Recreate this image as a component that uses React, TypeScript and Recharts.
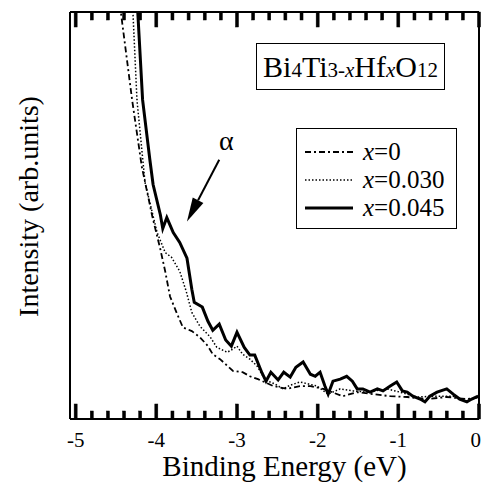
import React from 'react';
import { LineChart, Line, XAxis, YAxis, Legend, ReferenceLine } from 'recharts';

// x = 0 (dash-dot)
const energyX0 = [-4.47, -4.44, -4.30, -4.18, -4.05, -3.95, -3.89, -3.83, -3.74, -3.67, -3.56, -3.46, -3.36, -3.30, -3.21, -3.05, -2.93, -2.84, -2.74, -2.55, -2.38, -2.22, -2.09, -1.93, -1.69, -1.51, -1.31, -1.10, -0.89, -0.64, -0.40, -0.15, 0.0];
const intensityX0 = [101.7, 100, 78.4, 62.0, 49.8, 41.7, 36.3, 30.1, 25.7, 22.5, 21.6, 20.1, 17.9, 15.9, 14.7, 11.8, 11.5, 10.5, 9.8, 8.1, 7.4, 8.1, 8.1, 7.4, 5.6, 6.6, 6.1, 5.6, 5.4, 4.9, 5.4, 4.9, 5.4];

// x = 0.030 (dotted)
const energyX030 = [-4.33, -4.29, -4.24, -4.14, -3.99, -3.89, -3.81, -3.71, -3.63, -3.56, -3.46, -3.33, -3.25, -3.12, -3.05, -3.00, -2.93, -2.84, -2.75, -2.65, -2.53, -2.43, -2.34, -2.22, -2.01, -1.87, -1.72, -1.56, -1.39, -1.14, -0.98, -0.77, -0.57, -0.32, -0.15, -0.01];
const intensityX030 = [101.7, 100, 78.4, 58.1, 45.8, 40.9, 39.7, 36.3, 31.4, 26.2, 22.8, 20.1, 17.6, 16.4, 17.2, 17.9, 15.9, 14.7, 13.0, 9.6, 8.6, 7.4, 8.3, 9.1, 8.1, 6.1, 7.4, 6.9, 6.6, 7.4, 6.6, 5.4, 5.6, 5.6, 4.4, 5.4];

// x = 0.045 (solid)
const energyX045 = [-4.24, -4.23, -4.17, -4.08, -4.04, -3.95, -3.92, -3.87, -3.79, -3.71, -3.62, -3.56, -3.53, -3.43, -3.36, -3.30, -3.22, -3.14, -3.07, -3.00, -2.91, -2.84, -2.78, -2.69, -2.64, -2.58, -2.49, -2.42, -2.34, -2.27, -2.18, -2.09, -2.03, -1.97, -1.91, -1.87, -1.81, -1.72, -1.64, -1.57, -1.51, -1.44, -1.35, -1.26, -1.19, -1.10, -1.02, -0.95, -0.89, -0.82, -0.73, -0.67, -0.61, -0.52, -0.40, -0.32, -0.24, -0.15, -0.09, -0.01];
const intensityX045 = [101.7, 100, 78.4, 63.7, 57.6, 50.2, 46.8, 49.5, 45.8, 43.4, 39.5, 31.9, 28.7, 27.5, 24.0, 21.8, 23.3, 19.4, 17.9, 21.3, 17.6, 15.7, 15.7, 11.3, 9.3, 11.5, 9.6, 11.5, 10.3, 12.7, 14.0, 11.0, 10.5, 11.5, 8.1, 6.1, 9.3, 9.8, 10.5, 9.3, 7.4, 7.4, 6.6, 7.4, 6.9, 8.1, 9.1, 6.9, 6.6, 5.6, 4.9, 4.2, 5.6, 6.6, 7.4, 6.1, 4.9, 4.2, 4.9, 5.6];

const xTicks = [-5, -4.8, -4.6, -4.4, -4.2, -4, -3.8, -3.6, -3.4, -3.2, -3, -2.8, -2.6, -2.4, -2.2, -2, -1.8, -1.6, -1.4, -1.2, -1, -0.8, -0.6, -0.4, -0.2, 0];
const xMajorTicks = [-5, -4, -3, -2, -1, 0];
const xTickLabels = ['-5', '-4', '-3', '-2', '-1', '0'];
const seriesValues = ['0', '0.030', '0.045'];
const seriesDash = ['6 3 2 3', '1.5 2', ''];
const seriesWidth = [1.8, 1.5, 3];

// arrow (alpha) annotation: start and tip in data coords
const arrowEnergy = [-3.22, -3.62];
const arrowIntensity = [63.7, 48.5];

const Y_DOMAIN: [number, number] = [0, 100];
const X_DOMAIN: [number, number] = [-5.07, 0];

const zip = (e: number[], i: number[]) => e.map((v, k) => ({ e: v, i: i[k] }));
const dataX0 = zip(energyX0, intensityX0);
const dataX030 = zip(energyX030, intensityX030);
const dataX045 = zip(energyX045, intensityX045);

const isMajor = (v: number) => Math.abs(v - Math.round(v)) < 1e-6;
const FONT = '"Liberation Serif", "DejaVu Serif", serif';

// inward tick marks along a horizontal frame edge (axis viewBox gives the linear x range)
const edgeTicks = (vx: number, vw: number, yEdge: number, dir: number) =>
  xTicks.map((v) => {
    const len = isMajor(v) ? 15 : 8;
    const x = vx + ((v - X_DOMAIN[0]) / (X_DOMAIN[1] - X_DOMAIN[0])) * vw;
    const y = dir < 0 ? yEdge - len : yEdge;
    return <rect key={`${dir}${v}`} x={x - 1.5} y={y} width={3} height={len} fill="#000" stroke="#000" strokeWidth={0.5} />;
  });

const BottomLabel = (props: any) => {
  const { x, y, payload, index } = props;
  const last = index === xMajorTicks.length - 1;
  return (
    <text x={last ? x + 2 : x} y={y + 28} textAnchor={last ? 'end' : 'middle'} fontSize={21} fontFamily={FONT} fill="#000">
      {xTickLabels[xMajorTicks.indexOf(payload.value)]}
    </text>
  );
};

const ArrowShape = (p: any) => {
  const { x1, y1, x2, y2 } = p;
  const dx = x2 - x1, dy = y2 - y1;
  const len = Math.hypot(dx, dy) || 1;
  const ux = dx / len, uy = dy / len;
  const hl = 24, hw = 6;
  const bx = x2 - ux * hl, by = y2 - uy * hl;
  const px = -uy, py = ux;
  return (
    <g>
      <line x1={x1} y1={y1} x2={bx} y2={by} stroke="#000" strokeWidth={2} />
      <polygon points={`${x2},${y2} ${bx + px * hw},${by + py * hw} ${bx - px * hw},${by - py * hw}`} fill="#000" />
      <text x={x1 + 7} y={y1 - 10} textAnchor="middle" fontSize={28} fontFamily={FONT} fill="#000">α</text>
    </g>
  );
};

const LegendBox = () => (
  <div style={{ width: 161, height: 101, border: '1.5px solid #000', boxSizing: 'border-box', background: '#fff', paddingTop: 9, fontFamily: FONT }}>
    {seriesValues.map((v, k) => (
      <div key={k} style={{ display: 'flex', alignItems: 'center', height: 28 }}>
        <svg width={66} height={10} style={{ flex: 'none' }}>
          <line x1={8} x2={56} y1={5} y2={5} stroke="#000" strokeWidth={seriesWidth[k]} strokeDasharray={seriesDash[k] || undefined} />
        </svg>
        <span style={{ fontSize: 25, lineHeight: '28px', color: '#000', whiteSpace: 'nowrap' }}>
          <i>x</i>={v}
        </span>
      </div>
    ))}
  </div>
);

const YLabel = (p: any) => {
  const vb = p.viewBox || { x: 10, y: 12, width: 60, height: 407 };
  const cx = 28;
  const cy = vb.y + vb.height / 2 - 9;
  return (
    <text x={cx} y={cy} transform={`rotate(-90 ${cx} ${cy})`} textAnchor="middle" dominantBaseline="central" fontSize={28} fontFamily={FONT} fill="#000">
      Intensity (arb.units)
    </text>
  );
};

const XLabel = (p: any) => {
  const vb = p.viewBox || { x: 70, y: 419, width: 409, height: 61 };
  return (
    <g>
      {edgeTicks(vb.x, vb.width, vb.y, -1)}
      <text x={vb.x + vb.width / 2 + 10} y={vb.y + 57} textAnchor="middle" fontSize={29} fontFamily={FONT} fill="#000">
        Binding Energy (eV)
      </text>
    </g>
  );
};

const TopEdge = (p: any) => {
  const vb = p.viewBox || { x: 70, y: 11, width: 409, height: 1 };
  return <g>{edgeTicks(vb.x, vb.width, vb.y + vb.height, 1)}</g>;
};

const tickLineStyle = { stroke: '#000', strokeWidth: 2.5 };

export default function App() {
  const sub = { fontSize: 21 };
  return (
    <div style={{ position: 'absolute', left: 0, top: 0, width: 482, height: 491, background: '#fff' }}>
      <LineChart width={482} height={491} margin={{ top: 11, right: 2, bottom: 11, left: 10 }}>
        <XAxis
          dataKey="e"
          type="number"
          domain={X_DOMAIN}
          allowDataOverflow
          ticks={xMajorTicks}
          interval={0}
          height={61}
          tickSize={0}
          tickMargin={0}
          tick={<BottomLabel />}
          tickLine={false}
          axisLine={{ stroke: '#000', strokeWidth: 2 }}
          label={{ content: <XLabel /> }}
        />
        <XAxis
          xAxisId="top"
          orientation="top"
          dataKey="e"
          type="number"
          domain={X_DOMAIN}
          allowDataOverflow
          height={1}
          tick={false}
          tickLine={false}
          axisLine={{ stroke: '#000', strokeWidth: 2 }}
          label={{ content: <TopEdge /> }}
        />
        {/* mirrored helper axes: built-in inward tick lines on the bottom and top frame */}
        <XAxis xAxisId="bmaj" orientation="bottom" mirror type="number" dataKey="e" domain={X_DOMAIN} allowDataOverflow ticks={xMajorTicks} interval={0} tickSize={15} tick={false} axisLine={false} tickLine={tickLineStyle} height={1} />
        <XAxis xAxisId="bmin" orientation="bottom" mirror type="number" dataKey="e" domain={X_DOMAIN} allowDataOverflow ticks={xTicks} interval={0} tickSize={8} tick={false} axisLine={false} tickLine={tickLineStyle} height={1} />
        <XAxis xAxisId="tmaj" orientation="top" mirror type="number" dataKey="e" domain={X_DOMAIN} allowDataOverflow ticks={xMajorTicks} interval={0} tickSize={15} tick={false} axisLine={false} tickLine={tickLineStyle} height={1} />
        <XAxis xAxisId="tmin" orientation="top" mirror type="number" dataKey="e" domain={X_DOMAIN} allowDataOverflow ticks={xTicks} interval={0} tickSize={8} tick={false} axisLine={false} tickLine={tickLineStyle} height={1} />
        <YAxis
          dataKey="i"
          type="number"
          domain={Y_DOMAIN}
          allowDataOverflow
          width={60}
          tick={false}
          tickLine={false}
          axisLine={{ stroke: '#000', strokeWidth: 2 }}
          label={{ content: <YLabel /> }}
        />
        <YAxis
          yAxisId="right"
          orientation="right"
          type="number"
          domain={Y_DOMAIN}
          allowDataOverflow
          width={1}
          tick={false}
          tickLine={false}
          axisLine={{ stroke: '#000', strokeWidth: 2 }}
        />
        <Line data={dataX0} dataKey="i" name="x=0" type="linear" stroke="#000" strokeWidth={seriesWidth[0]} strokeDasharray={seriesDash[0]} dot={false} activeDot={false} isAnimationActive={false} />
        <Line data={dataX030} dataKey="i" name="x=0.030" type="linear" stroke="#000" strokeWidth={seriesWidth[1]} strokeDasharray={seriesDash[1]} dot={false} activeDot={false} isAnimationActive={false} />
        <Line data={dataX045} dataKey="i" name="x=0.045" type="linear" stroke="#000" strokeWidth={seriesWidth[2]} dot={false} activeDot={false} isAnimationActive={false} />
        <ReferenceLine
          segment={[{ x: arrowEnergy[0], y: arrowIntensity[0] }, { x: arrowEnergy[1], y: arrowIntensity[1] }]}
          shape={<ArrowShape />}
          ifOverflow="visible"
        />
        <Legend
          content={<LegendBox />}
          verticalAlign="middle"
          align="center"
          layout="horizontal"
          wrapperStyle={{ left: 296, top: 128, width: 161, height: 101 }}
        />
      </LineChart>
      <div
        style={{
          position: 'absolute', left: 256, top: 43, width: 189, height: 47,
          border: '1.5px solid #000', boxSizing: 'border-box', background: '#fff',
          display: 'flex', alignItems: 'center', justifyContent: 'center',
          fontFamily: FONT, fontSize: 30, color: '#000', whiteSpace: 'nowrap',
        }}
      >
        <span>Bi<span style={sub}>4</span>Ti<span style={sub}>3-<i>x</i></span>Hf<span style={sub}><i>x</i></span>O<span style={sub}>12</span></span>
      </div>
    </div>
  );
}
